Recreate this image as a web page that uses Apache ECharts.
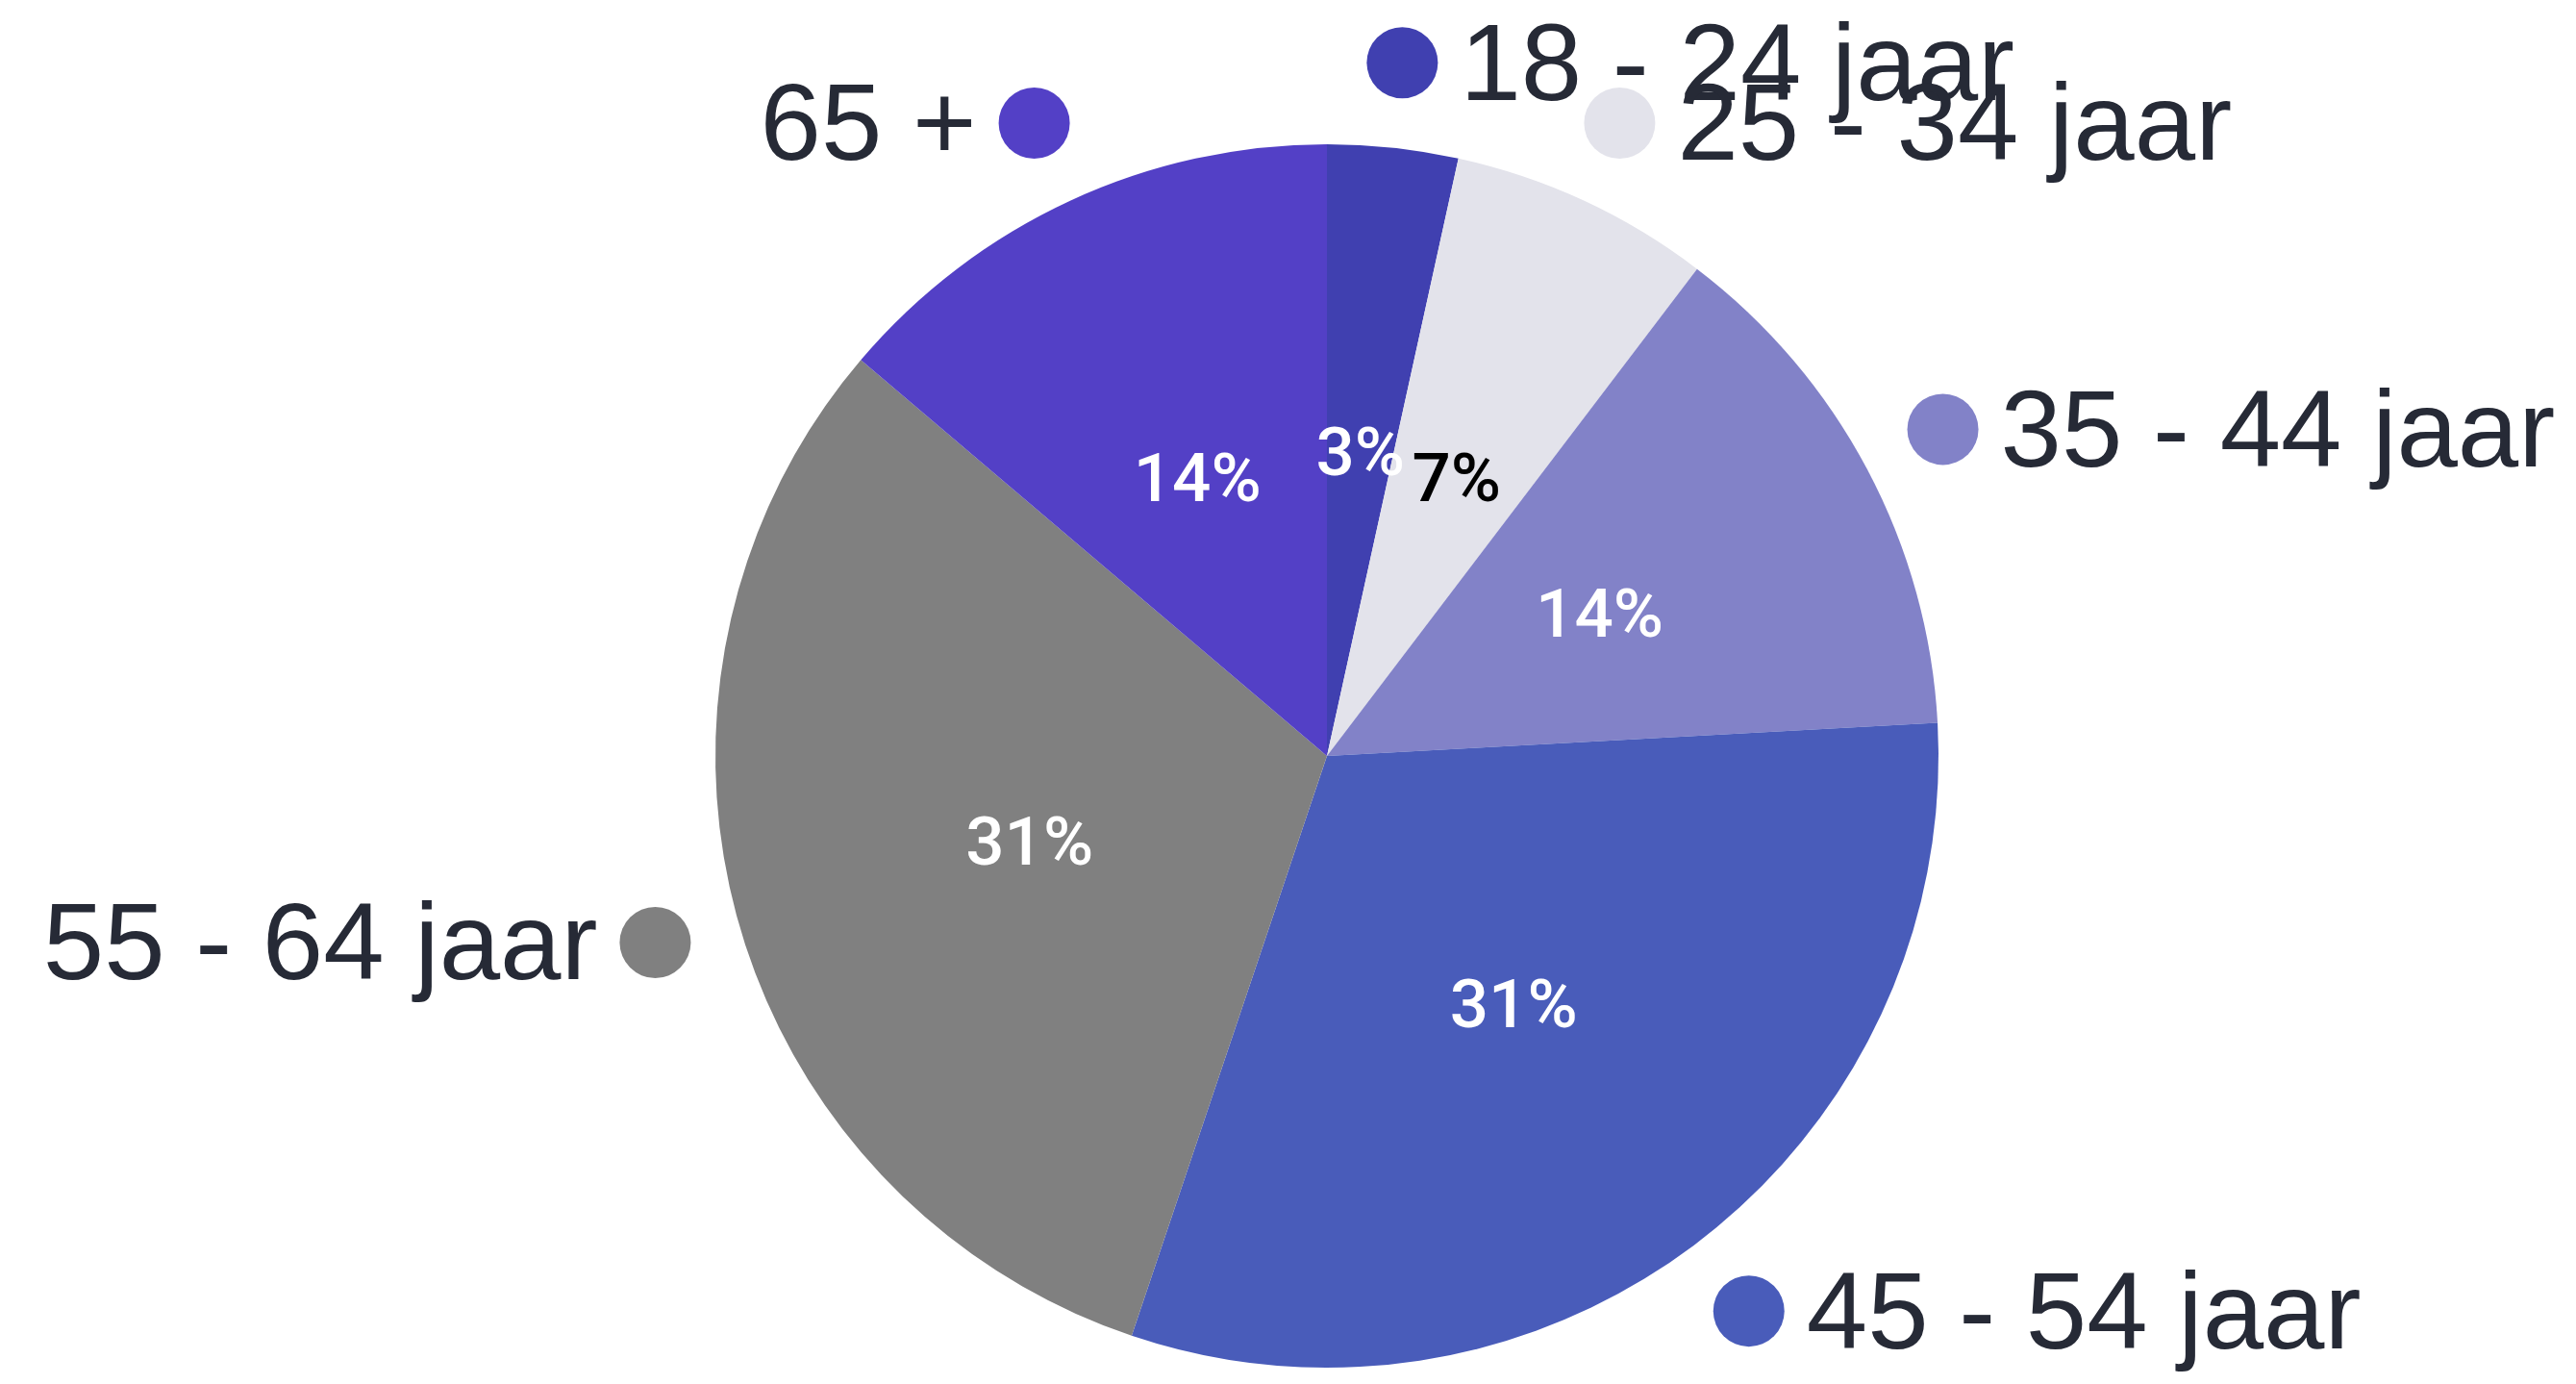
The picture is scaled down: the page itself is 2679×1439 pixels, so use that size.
<!DOCTYPE html>
<html><head><meta charset="utf-8">
<script src="https://cdn.jsdelivr.net/npm/echarts@6/dist/echarts.min.js"></script>
<style>html,body{margin:0;padding:0;background:#fff}#c{width:2679px;height:1439px}</style>
</head><body><div id="c"></div>
<script>
// ---- data ----
const categories = ['18 - 24 jaar', '25 - 34 jaar', '35 - 44 jaar', '45 - 54 jaar', '55 - 64 jaar', '65 +'];
const values = [1, 2, 4, 9, 9, 4];

// ---- styles ----
const palette = ['#4040b0', '#e3e3eb', '#8282c8', '#495cba', '#808080', '#5340c6'];
const pctColors = ['#ffffff', '#000000', '#ffffff', '#ffffff', '#ffffff', '#ffffff'];
const nameFont = "'Liberation Sans Narrow','Arial Narrow','Liberation Sans',sans-serif";
const pctFont = "Roboto,'Liberation Sans',Arial,sans-serif";
const center = [1380, 786], radius = 636;

const total = values.reduce((a, b) => a + b, 0);
let cum = 0;
const sides = values.map(v => { const mid = (cum + v / 2) / total; cum += v; return mid < 0.5 ? 'right' : 'left'; });

const rich = {
  tr: { fontSize: 114, fontFamily: nameFont, color: '#262a36', padding: [14, 0, 0, 23], verticalAlign: 'middle', lineHeight: 120 },
  tl: { fontSize: 114, fontFamily: nameFont, color: '#262a36', padding: [14, 23, 0, 0], verticalAlign: 'middle', lineHeight: 120 }
};
palette.forEach((c, i) => {
  rich['d' + i] = { width: 74, height: 74, borderRadius: 37, backgroundColor: c, verticalAlign: 'middle' };
});

const innerData = categories.map((name, i) => ({
  name, value: values[i],
  itemStyle: { color: palette[i] },
  label: { color: pctColors[i] }
}));
const outerData = categories.map((name, i) => ({
  name, value: values[i],
  label: { formatter: sides[i] === 'right' ? `{d${i}|}{tr|${name}}` : `{tl|${name}}{d${i}|}` }
}));

const chart = echarts.init(document.getElementById('c'), null, { renderer: 'canvas' });
chart.setOption({
  animation: false,
  backgroundColor: '#ffffff',
  series: [
    {
      type: 'pie', center, radius, startAngle: 90, clockwise: true,
      avoidLabelOverlap: false, silent: true,
      itemStyle: { borderWidth: 0 },
      label: {
        position: 'inside', fontSize: 71, fontWeight: 500, fontFamily: pctFont,
        offset: [0, 9],
        formatter: p => Math.round(p.percent) + '%'
      },
      labelLine: { show: false },
      emphasis: { disabled: true },
      data: innerData
    },
    {
      type: 'pie', center, radius, startAngle: 90, clockwise: true,
      avoidLabelOverlap: false, silent: true,
      itemStyle: { color: 'rgba(0,0,0,0)', borderWidth: 0 },
      label: { position: 'outside', distanceToLabelLine: -37, rich },
      labelLine: { show: false, length: 89, length2: 0 },
      labelLayout: { hideOverlap: false },
      emphasis: { disabled: true },
      data: outerData
    }
  ]
});
</script>
</body></html>
